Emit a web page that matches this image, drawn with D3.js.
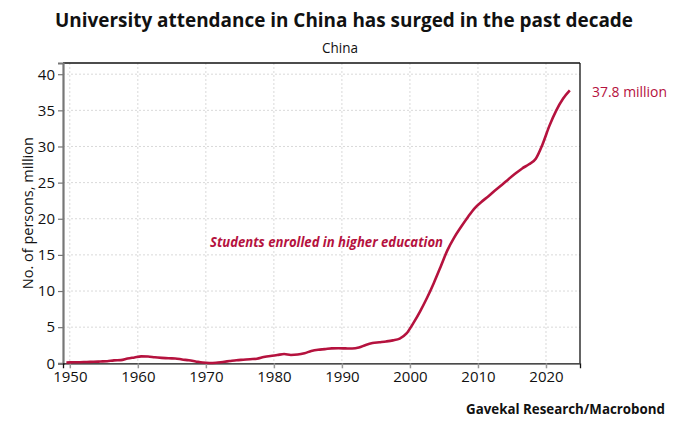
<!DOCTYPE html>
<html><head><meta charset="utf-8">
<script src="https://cdn.jsdelivr.net/npm/d3@7"></script>
<style>body{margin:0;background:#fff}svg{display:block}text{font-family:"Open Sans",sans-serif}</style>
</head><body>
<script>
const years = [1949,1950,1951,1952,1953,1954,1955,1956,1957,1958,1959,1960,1961,1962,1963,1964,1965,1966,1967,1968,1969,1970,1971,1972,1973,1974,1975,1976,1977,1978,1979,1980,1981,1982,1983,1984,1985,1986,1987,1988,1989,1990,1991,1992,1993,1994,1995,1996,1997,1998,1999,2000,2001,2002,2003,2004,2005,2006,2007,2008,2009,2010,2011,2012,2013,2014,2015,2016,2017,2018,2019,2020,2021,2022,2023];
const students = [0.12,0.14,0.15,0.19,0.21,0.25,0.29,0.40,0.44,0.66,0.81,0.96,0.95,0.83,0.75,0.69,0.67,0.53,0.41,0.26,0.11,0.05,0.08,0.19,0.31,0.43,0.50,0.57,0.63,0.86,1.02,1.14,1.28,1.15,1.21,1.40,1.70,1.88,1.96,2.07,2.08,2.06,2.04,2.18,2.54,2.80,2.91,3.02,3.17,3.41,4.13,5.56,7.19,9.03,11.09,13.34,15.62,17.39,18.85,20.21,21.45,22.32,23.09,23.91,24.68,25.48,26.25,26.96,27.54,28.31,30.32,32.85,34.96,36.59,37.75];
const xTicks = [1950,1960,1970,1980,1990,2000,2010,2020];
const yTicks = [0,5,10,15,20,25,30,35,40];
const title = "University attendance in China has surged in the past decade";
const subtitle = "China";
const yLabel = "No. of persons, million";
const seriesLabel = "Students enrolled in higher education";
const endLabel = "37.8 million";
const source = "Gavekal Research/Macrobond";

const W = 689, H = 426;
const m = {l:63, r:580, t:63, b:363.3};
const red = "#b5123e";
const svg = d3.select("body").append("svg").attr("width",W).attr("height",H);
const x = d3.scaleLinear().domain([1949.0, 2025.0]).range([m.l, m.r]);
const y = d3.scaleLinear().domain([0, 41.55]).range([m.b, m.t]);

// grid
const g = svg.append("g");
g.selectAll(".vg").data(xTicks).join("line").attr("x1",d=>x(d)).attr("x2",d=>x(d)).attr("y1",m.t).attr("y2",m.b)
 .attr("stroke","#d9d9d9").attr("stroke-width",1).attr("stroke-dasharray","2,2");
g.selectAll(".hg").data(yTicks.filter(d=>d>0)).join("line").attr("x1",m.l).attr("x2",m.r).attr("y1",d=>y(d)).attr("y2",d=>y(d))
 .attr("stroke","#d9d9d9").attr("stroke-width",1).attr("stroke-dasharray","2,2");

// frame
svg.append("line").attr("x1",m.l).attr("x2",m.r).attr("y1",m.t).attr("y2",m.t).attr("stroke","#111").attr("stroke-width",1.3);
svg.append("line").attr("x1",m.r).attr("x2",m.r).attr("y1",m.t).attr("y2",m.b).attr("stroke","#111").attr("stroke-width",1.3);

// axes
const ya = svg.append("g").attr("transform",`translate(${m.l},0)`)
 .call(d3.axisLeft(y).tickValues(yTicks).tickSize(5).tickPadding(3));
ya.select(".domain").attr("stroke","#777").attr("stroke-width",2.2);
ya.selectAll(".tick line").attr("stroke","#777").attr("stroke-width",1.2);
ya.selectAll(".tick text").attr("font-size",15).attr("fill","#111").attr("font-family","Open Sans");

const xa = svg.append("g").attr("transform",`translate(0,${m.b})`)
 .call(d3.axisBottom(x).tickValues(xTicks).tickFormat(d3.format("d")).tickSize(5).tickPadding(3));
xa.select(".domain").attr("stroke","#111").attr("stroke-width",1.3);
xa.selectAll(".tick line").attr("stroke","#999").attr("stroke-width",1.5);
xa.selectAll(".tick text").attr("font-size",15).attr("fill","#111").attr("font-family","Open Sans");

// line
const data = years.map((yr,i)=>({yr, v:students[i]}));
svg.append("path").datum(data)
 .attr("d", d3.line().x(d=>x(d.yr+0.5)).y(d=>y(d.v)).curve(d3.curveMonotoneX))
 .attr("fill","none").attr("stroke",red).attr("stroke-width",2.6).attr("stroke-linejoin","round");

// texts
svg.append("text").attr("x",344).attr("y",27).attr("text-anchor","middle").attr("font-weight",700).attr("font-size",20)
 .attr("fill","#111").attr("textLength",578).attr("lengthAdjust","spacingAndGlyphs").text(title);
svg.append("text").attr("x",340).attr("y",53).attr("text-anchor","middle").attr("font-size",15).attr("fill","#111")
 .attr("textLength",36).attr("lengthAdjust","spacingAndGlyphs").text(subtitle);
svg.append("text").attr("transform",`translate(33,${(m.t+m.b)/2}) rotate(-90)`).attr("text-anchor","middle")
 .attr("font-size",15).attr("fill","#111").attr("textLength",152).attr("lengthAdjust","spacingAndGlyphs").text(yLabel);
svg.append("text").attr("x",210).attr("y",247).attr("font-style","italic").attr("font-weight",700).attr("font-size",14)
 .attr("fill",red).attr("textLength",233).attr("lengthAdjust","spacingAndGlyphs").text(seriesLabel);
svg.append("text").attr("x",592).attr("y",97).attr("font-size",14.5).attr("fill",red)
 .attr("textLength",75).attr("lengthAdjust","spacingAndGlyphs").text(endLabel);
svg.append("text").attr("x",665).attr("y",414).attr("text-anchor","end").attr("font-weight",700).attr("font-size",14)
 .attr("fill","#111").attr("textLength",199).attr("lengthAdjust","spacingAndGlyphs").text(source);
</script>
</body></html>
